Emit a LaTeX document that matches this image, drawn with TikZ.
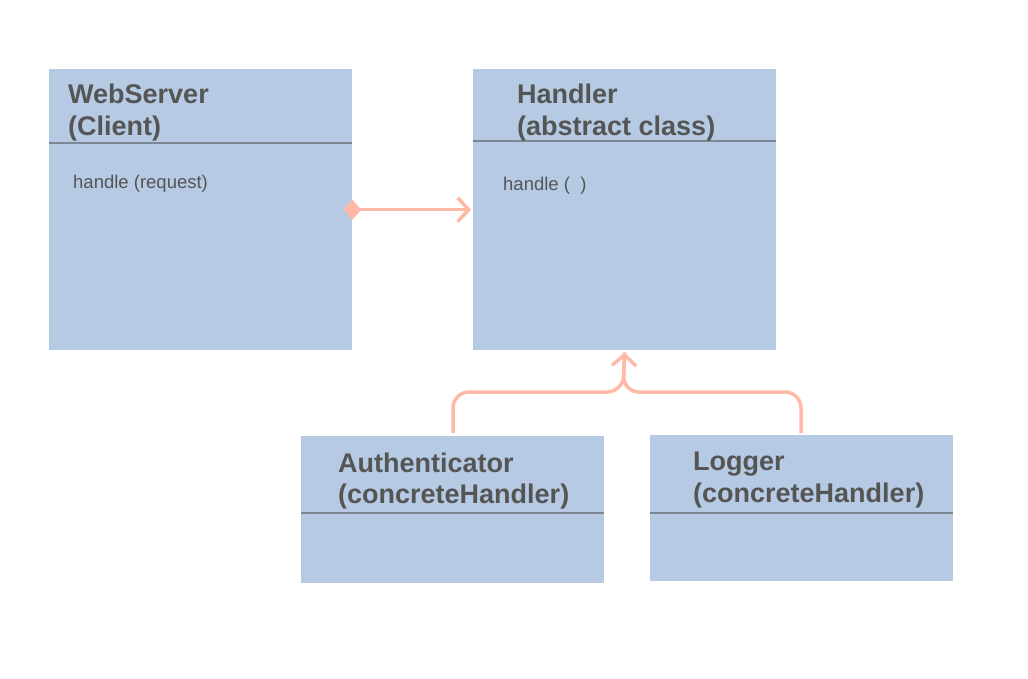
\documentclass[tikz,border=0pt]{standalone}
\usepackage{fontspec}
\setmainfont{Liberation Sans}
\usetikzlibrary{arrows.meta}
\definecolor{boxfill}{HTML}{B6CAE4}
\definecolor{divline}{HTML}{7E8794}
\definecolor{txt}{HTML}{555555}
\definecolor{salmon}{HTML}{FFB9A6}
\tikzset{
  classbox/.style={draw=none, fill=boxfill, rectangle, anchor=north west, inner sep=0pt, minimum width=303pt},
  divider/.style={draw=divline, line width=1.2pt},
  title/.style={anchor=base west, inner sep=0pt, text=txt, font=\fontsize{27}{32}\selectfont\bfseries},
  op/.style={anchor=base west, inner sep=0pt, text=txt, font=\fontsize{18.5}{20}\selectfont},
  conn/.style={draw=salmon, line width=3.5pt},
  openhead/.style={-{Straight Barb[length=11pt,width=24pt,line width=3.5pt]}},
}
\begin{document}
\begin{tikzpicture}[x=1pt,y=-1pt]
\useasboundingbox (0,0) rectangle (1028,678);
% boxes
\node[classbox, minimum height=281pt] (ws) at (49,69) {};
\node[classbox, minimum height=281pt] (h) at (473,69) {};
\node[classbox, minimum height=147pt] (au) at (301,436) {};
\node[classbox, minimum height=146pt] (lg) at (650,435) {};
% dividers
\draw[divider] (49,143) -- (352,143);
\draw[divider] (473,141) -- (776,141);
\draw[divider] (301,513) -- (604,513);
\draw[divider] (650,513) -- (953,513);
% texts
\node[title] (wst1) at (68,103) {WebServer};
\node[title] (wst2) at (68,135) {(Client)};
\node[op] (wsop) at (73,188) {handle (request)};
\node[title] (ht1) at (517,103) {Handler};
\node[title] (ht2) at (517,135) {(abstract class)};
\node[op] (hop) at (503,190) {handle (\ \ )};
\node[title] (aut1) at (338,472) {Authenticator};
\node[title] (aut2) at (338,503) {(concreteHandler)};
\node[title] (lgt1) at (693,470) {Logger};
\node[title] (lgt2) at (693,502) {(concreteHandler)};
% association with diamond
\draw[conn, {Diamond[length=18pt,width=20pt,line width=0pt]}-{Straight Barb[length=11pt,width=24pt,line width=3.5pt]}, shorten <=-9pt, shorten >=2pt] (ws.east) -- (h.west);
% inheritance
\coordinate (auTop) at (453,433);
\coordinate (lgTop) at (801,433);
\coordinate (join) at (623,392);
\draw[conn, rounded corners=16pt, shorten >=2pt] (auTop) |- (join) -- (h.south);
\draw[conn, openhead, rounded corners=16pt, shorten >=2pt] (lgTop) |- (join) -- (h.south);
\end{tikzpicture}
\end{document}
